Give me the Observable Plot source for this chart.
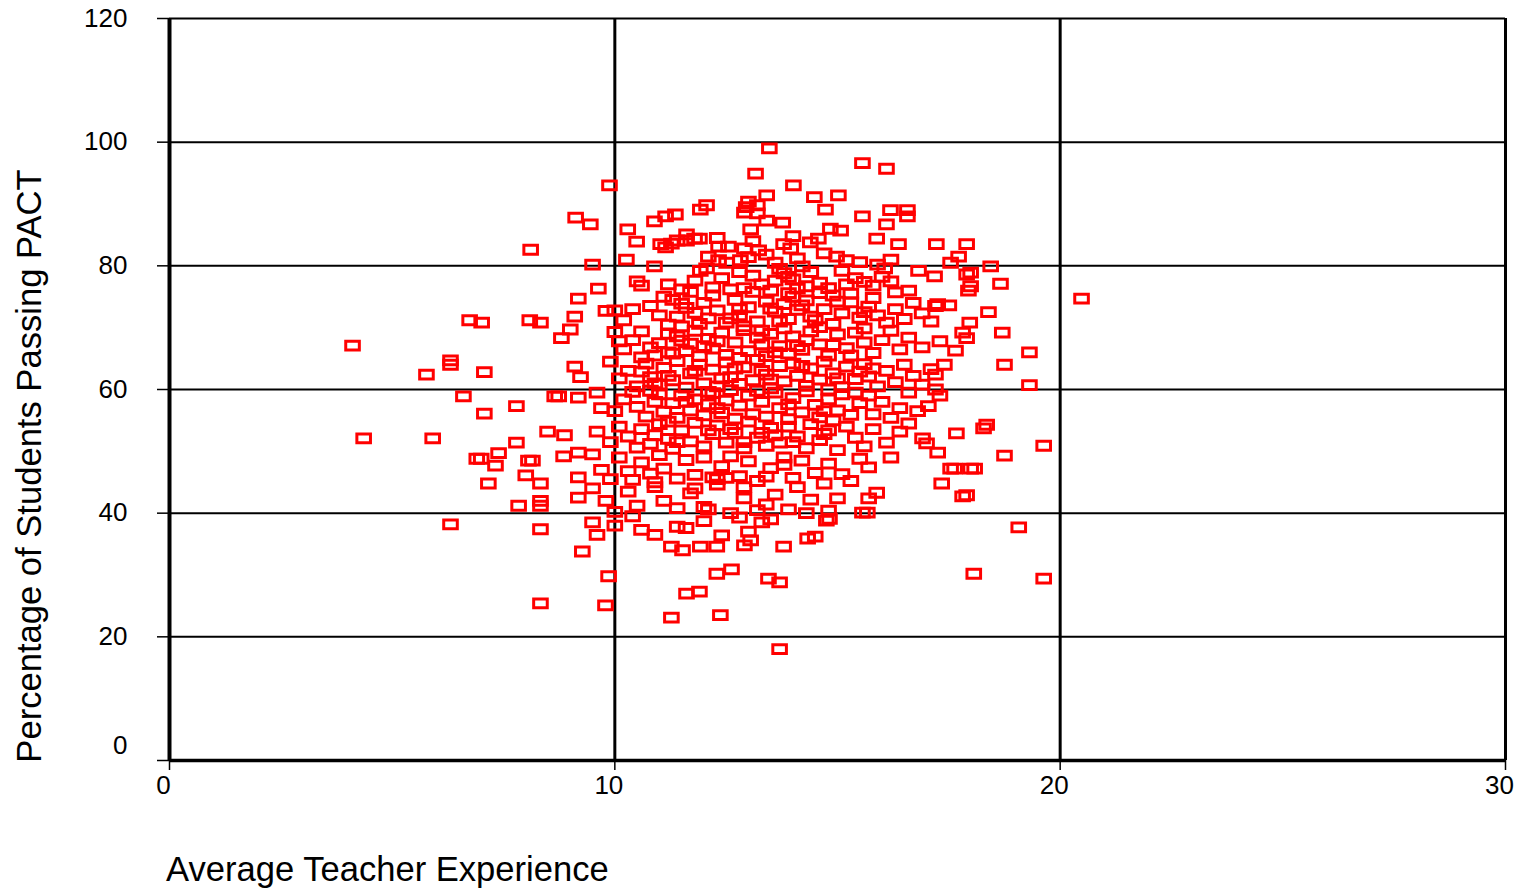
<!DOCTYPE html>
<html><head><meta charset="utf-8">
<script src="https://cdn.jsdelivr.net/npm/d3@7"></script>
<script src="https://cdn.jsdelivr.net/npm/@observablehq/plot@0.6"></script>
<style>
body{margin:0;background:#fff;font-family:"Liberation Sans",Arial,sans-serif;}
#wrap{position:relative;width:1518px;height:889px;overflow:hidden;background:#fff}
#ytitle{position:absolute;left:29px;top:466px;transform:translate(-50%,-50%) rotate(-90deg);font-size:34.6px;white-space:nowrap;line-height:1;color:#000}
#xtitle{position:absolute;left:166px;top:852px;font-size:34.6px;line-height:1;white-space:nowrap;color:#000}
</style></head><body>
<div id="wrap"><div id="chart"></div>
<div id="ytitle">Percentage of Students Passing PACT</div>
<div id="xtitle">Average Teacher Experience</div></div>
<script>
const xTicks = [0, 10, 20, 30];
const yTicks = [0, 20, 40, 60, 80, 100, 120];
const xTitle = "Average Teacher Experience";
const yTitle = "Percentage of Students Passing PACT";

// [average teacher experience, % passing PACT], grouped by band of pass rate
const band95 = [[13.47,99.0],[15.56,96.6],[16.10,95.7],[13.16,94.9]];
const band90 = [[9.88,93.0],[14.01,93.0],[13.41,91.4],[14.48,91.1],[15.02,91.4],[13.0,90.4]];
const band85 = [[13.2,89.8],[12.06,89.8],[11.92,89.1],[16.19,89.0],[16.57,89.0],[16.57,88.0],[14.73,89.1],[12.91,88.6],[11.14,88.0],[11.36,88.3],[9.12,87.8],[15.56,88.0],[13.41,87.3],[13.77,87.0],[10.89,87.2],[9.45,86.7],[16.1,86.7],[10.29,85.9],[13.05,85.9],[14.84,86.0],[15.07,85.7],[13.2,88.5],[12.95,89.5]];
const band80 = [[11.61,85.1],[11.79,84.4],[11.61,84.1],[11.9,84.4],[10.49,83.9],[11.03,83.5],[11.27,83.6],[11.4,84.1],[14.39,83.8],[14.57,84.4],[15.88,84.4],[16.37,83.5],[17.22,83.5],[17.9,83.5],[12.33,83.1],[12.55,83.1],[12.91,82.8],[13.23,82.5],[13.79,83.5],[13.95,82.8],[8.11,82.6],[11.14,83.0],[14.98,81.5],[15.2,80.9],[10.26,81.0],[17.72,81.5],[12.33,80.9],[12.51,80.5],[12.82,80.9],[13.0,81.4],[9.5,80.2],[12.1,81.5],[13.6,80.5],[14.7,82.0],[15.5,80.6],[17.54,80.5],[16.2,81.0],[12.3,84.5],[13.1,84.0],[14.0,84.8]];
const band75 = [[11.92,79.2],[12.06,79.6],[10.89,79.9],[14.21,79.9],[16.06,79.6],[16.82,79.2],[18.44,79.9],[17.9,78.6],[17.99,78.9],[17.18,78.3],[13.7,79.5],[13.8,78.8],[16.2,77.5],[18.66,77.1],[17.94,76.0],[17.99,76.7],[16.6,76.0],[9.63,76.3],[10.5,77.5],[10.6,76.8],[11.2,77.0],[11.5,76.2],[11.7,75.8],[12.2,76.5],[12.6,76.2],[12.9,76.4],[13.3,77.0],[13.1,78.4],[13.6,77.6],[14.0,77.8],[14.3,76.7],[14.6,77.3],[14.8,76.4],[15.2,77.0],[15.4,78.0],[15.6,77.4],[15.8,76.8],[16.0,78.2],[16.3,75.7],[15.3,75.5],[14.9,75.2],[13.9,75.6],[12.4,78.0],[11.8,77.6],[13.5,76.0],[14.1,76.3]];
const band70 = [[20.48,74.7],[9.18,74.7],[17.2,73.5],[17.25,73.8],[18.39,72.5],[17.97,70.8],[6.74,71.2],[7.01,70.8],[8.09,71.2],[8.33,70.8],[9.1,71.8],[9.8,72.7],[10.0,72.8],[10.2,71.2],[10.4,73.0],[10.8,73.5],[11.0,72.0],[11.2,70.5],[11.4,71.8],[11.6,73.2],[11.8,72.4],[12.0,74.0],[12.1,71.5],[12.3,72.8],[12.5,70.8],[12.7,74.5],[12.8,72.0],[13.0,73.3],[13.2,71.0],[13.4,74.2],[13.6,72.6],[13.8,73.8],[13.9,71.4],[14.1,72.9],[14.3,74.4],[14.5,71.2],[14.7,73.0],[14.9,70.6],[15.1,72.3],[15.3,74.1],[15.5,71.6],[15.7,73.4],[15.9,72.0],[16.1,70.8],[16.3,73.0],[16.5,71.4],[16.7,74.0],[16.9,72.3],[17.1,71.0],[17.5,73.6],[11.3,74.5],[12.9,70.2],[14.0,75.0],[15.8,74.8]];
const band65 = [[4.11,67.1],[8.8,68.3],[9.0,69.7],[18.7,69.2],[17.81,69.2],[17.9,68.3],[19.31,66.0],[17.65,66.3],[10.0,69.3],[10.2,66.5],[10.4,68.0],[10.6,69.4],[10.8,66.8],[10.9,65.5],[11.0,67.5],[11.2,69.0],[11.3,65.8],[11.5,67.9],[11.6,66.2],[11.8,69.5],[11.9,65.4],[12.1,68.2],[12.2,66.6],[12.4,69.2],[12.5,65.6],[12.7,67.6],[12.9,69.6],[13.0,66.2],[13.2,68.4],[13.4,65.4],[13.5,69.0],[13.7,67.0],[13.9,65.8],[14.0,68.6],[14.2,66.4],[14.4,69.4],[14.6,67.3],[14.8,65.5],[15.0,68.9],[15.2,66.7],[15.4,69.2],[15.6,67.6],[15.8,65.9],[16.0,68.0],[16.2,69.5],[16.4,66.5],[16.6,68.4],[16.9,66.8],[17.3,67.8],[10.1,67.8],[12.0,67.0],[13.3,67.3],[14.3,68.0],[15.3,65.5],[11.4,68.6]];
const band60 = [[6.31,64.7],[6.31,64.0],[5.77,62.4],[7.07,62.8],[9.1,63.7],[9.23,62.0],[18.75,64.0],[17.2,60.0],[17.4,64.0],[17.1,63.3],[19.31,60.7],[9.9,64.5],[10.1,61.8],[10.3,63.0],[10.5,60.5],[10.7,64.2],[10.8,62.0],[11.0,60.8],[11.1,63.5],[11.3,61.5],[11.4,64.6],[11.6,60.3],[11.7,62.6],[11.9,64.0],[12.0,61.0],[12.2,63.2],[12.3,60.5],[12.5,64.4],[12.6,62.0],[12.8,60.9],[12.9,63.6],[13.1,61.5],[13.2,64.8],[13.4,62.4],[13.5,60.2],[13.7,63.8],[13.8,61.3],[14.0,64.2],[14.1,62.2],[14.3,60.6],[14.4,63.4],[14.6,61.6],[14.7,64.5],[14.9,62.6],[15.1,60.4],[15.2,63.7],[15.4,61.7],[15.6,64.1],[15.7,62.1],[15.9,60.5],[16.1,63.0],[16.3,61.2],[16.5,64.0],[16.7,62.2],[16.9,60.8],[17.2,62.4],[10.6,62.9],[12.4,61.8],[13.3,63.0],[14.8,60.0],[15.5,62.9]];
const band55 = [[6.6,58.9],[7.07,56.1],[7.79,57.3],[8.74,58.9],[8.65,58.9],[9.18,58.7],[9.6,59.5],[9.7,57.0],[10.0,56.5],[10.2,58.4],[10.4,59.6],[10.5,57.2],[10.7,55.6],[10.9,58.0],[11.0,59.2],[11.1,56.4],[11.3,57.8],[11.4,55.4],[11.5,59.0],[11.7,56.6],[11.8,58.4],[12.0,55.8],[12.1,57.6],[12.2,59.4],[12.4,56.2],[12.5,58.2],[12.7,55.3],[12.8,57.4],[13.0,59.0],[13.1,56.0],[13.3,58.0],[13.4,55.6],[13.6,59.5],[13.7,57.0],[13.9,55.2],[14.0,58.6],[14.2,56.3],[14.3,59.7],[14.5,57.5],[14.6,55.5],[14.8,58.4],[15.0,56.6],[15.1,59.2],[15.3,55.9],[15.5,57.8],[15.7,59.0],[15.8,56.0],[16.0,58.0],[16.2,55.4],[16.4,57.0],[16.6,59.5],[16.8,56.5],[17.04,57.3],[17.3,59.0],[10.8,59.8],[12.6,59.9],[14.9,55.0]];
const band50 = [[4.36,52.1],[5.91,52.1],[7.79,51.4],[8.49,53.2],[8.87,52.6],[9.6,53.2],[9.9,51.5],[10.1,54.0],[10.3,52.4],[10.5,50.6],[10.6,53.6],[10.8,51.2],[11.0,54.4],[11.2,52.0],[11.3,50.4],[11.5,53.4],[11.7,51.6],[11.8,54.6],[12.0,50.8],[12.2,52.8],[12.3,54.2],[12.5,51.4],[12.7,53.0],[12.9,50.5],[13.0,54.8],[13.2,52.2],[13.4,50.9],[13.5,53.8],[13.7,51.4],[13.9,54.0],[14.1,52.4],[14.3,50.5],[14.4,54.4],[14.6,51.8],[14.8,53.4],[15.0,50.2],[15.2,54.0],[15.4,52.2],[15.6,50.8],[15.8,53.6],[16.1,51.4],[16.4,53.2],[16.6,54.5],[16.91,52.1],[17.0,51.3],[17.67,52.9],[18.35,54.3],[18.28,53.7],[19.63,50.9],[12.1,53.4],[13.6,52.6]];
const band45 = [[6.9,48.8],[7.0,48.8],[7.32,47.7],[7.39,49.7],[7.16,44.8],[8.06,48.5],[8.15,48.5],[8.0,46.1],[8.85,49.2],[9.18,49.8],[9.18,45.8],[9.5,49.5],[9.7,47.0],[9.9,45.5],[10.1,49.0],[10.3,46.8],[10.4,45.4],[10.6,48.2],[10.8,46.4],[11.0,49.4],[11.1,47.2],[11.4,45.6],[11.6,48.6],[11.8,46.2],[12.0,49.0],[12.2,45.8],[12.4,47.6],[12.6,49.2],[12.8,46.0],[13.0,48.4],[13.2,45.2],[13.5,47.3],[13.8,49.0],[14.0,45.7],[14.2,48.5],[14.5,46.5],[14.8,48.0],[15.1,46.3],[15.5,48.8],[15.7,47.4],[16.2,49.0],[17.25,49.8],[17.63,47.2],[17.54,47.2],[17.99,47.2],[18.08,47.2],[18.75,49.3],[12.3,45.5],[12.5,45.7],[10.9,45.0]];
const band40 = [[7.84,41.2],[8.33,44.8],[8.33,42.0],[8.33,41.2],[9.18,42.5],[9.5,44.0],[9.8,42.0],[10.0,40.2],[10.3,43.5],[10.5,41.2],[10.9,44.2],[11.1,42.0],[11.4,40.8],[11.7,43.2],[12.0,41.0],[12.3,44.6],[12.6,40.0],[12.9,42.4],[13.2,40.5],[13.4,41.4],[13.6,43.0],[13.9,40.6],[14.1,44.2],[14.4,42.2],[14.8,40.4],[15.0,42.4],[15.88,43.3],[15.56,40.1],[15.67,40.1],[15.7,42.4],[17.34,44.8],[17.9,42.9],[17.81,42.7],[12.1,40.6],[14.3,40.0]];
const band35 = [[6.31,38.2],[8.33,37.4],[9.5,38.5],[9.6,36.5],[10.0,38.0],[10.4,39.5],[10.6,37.3],[10.9,36.5],[11.4,37.8],[11.6,37.6],[12.4,36.4],[12.8,39.3],[13.05,35.6],[13.3,38.5],[13.5,39.0],[14.33,35.9],[14.5,36.2],[14.75,38.8],[14.82,39.1],[12.0,38.7],[19.07,37.7],[13.0,37.0]];
const band30 = [[9.27,33.8],[11.27,34.6],[11.52,34.0],[11.92,34.6],[12.29,34.6],[12.91,34.8],[13.79,34.6],[12.62,30.9],[12.29,30.2]];
const bandLow = [[9.86,29.8],[9.79,25.1],[8.33,25.4],[11.61,27.0],[11.9,27.3],[13.45,29.4],[13.7,28.8],[12.37,23.5],[11.27,23.1],[13.7,18.0],[18.06,30.2],[19.63,29.4]];
const core = [[11.1,75.0],[11.5,73.9],[12.2,75.2],[12.8,73.0],[13.1,75.8],[13.5,73.1],[13.7,71.0],[14.2,73.6],[14.6,75.6],[14.4,71.8],[15.0,74.2],[15.6,72.5],[12.6,71.5],[11.9,70.6],[11.5,70.2],[13.3,69.5],[13.8,69.9],[14.6,70.1],[15.6,69.9],[12.3,67.8],[12.8,65.1],[13.6,66.0],[14.1,67.0],[14.9,67.2],[11.7,67.4],[11.2,66.0],[10.6,65.2],[11.8,63.0],[12.7,63.4],[13.5,61.6],[14.2,63.8],[15.0,61.8],[15.8,63.4],[11.2,62.2],[10.9,61.0],[12.1,59.6],[13.2,59.8],[13.9,57.6],[14.7,56.5],[15.4,59.5],[12.3,57.0],[11.6,58.0],[11.2,54.8],[12.6,53.6],[13.3,53.0],[14.0,51.5],[14.7,52.8],[12.9,51.5],[11.4,51.5],[10.9,52.6],[13.8,47.8],[13.4,45.9],[12.9,44.2],[14.7,44.8],[15.3,45.2],[11.8,44.0],[13.9,78.2],[14.4,79.0],[12.8,79.0],[15.1,79.2],[15.9,80.2],[13.4,81.8],[14.1,81.2]];

const schools = [].concat(band95, band90, band85, band80, band75, band70, band65, band60, band55, band50, band45, band40, band35, band30, bandLow, core)
  .map(([experience, passing]) => ({experience, passing}));

const boxSymbol = {draw(ctx) { ctx.rect(-6.8, -4.4, 13.6, 8.8); }};

const chart = Plot.plot({
  width: 1518, height: 800,
  marginLeft: 169, marginRight: 13, marginTop: 18, marginBottom: 40,
  x: {domain: [0, 30]},
  y: {domain: [0, 120]},
  style: {fontFamily: "Liberation Sans, Arial, sans-serif", background: "white", color: "black"},
  marks: [
    Plot.ruleX(xTicks.filter(d => d > 0), {stroke: "black", strokeWidth: 3}),
    Plot.ruleY(yTicks.filter(d => d > 0), {stroke: "black", strokeWidth: 2}),
    Plot.dot(schools, {x: "experience", y: "passing", symbol: boxSymbol, stroke: "#ff0000", strokeWidth: 3, fill: "none"}),
    Plot.ruleX([0], {stroke: "black", strokeWidth: 4}),
    Plot.ruleY([0], {stroke: "black", strokeWidth: 3.5}),
    Plot.axisY(yTicks, {tickSize: 12, tickPadding: 30, fontSize: 26, label: null, strokeWidth: 1.5, tickFormat: d => d === 0 ? "" : String(d)}),
    Plot.axisY([0], {tickSize: 0, tickPadding: 42, fontSize: 26, label: null, dy: -15}),
    Plot.axisX(xTicks, {tickSize: 10, label: null, strokeWidth: 1.5, tickFormat: () => ""}),
    Plot.axisX(xTicks, {tickSize: 0, tickPadding: 15, fontSize: 26, label: null, dx: -6})
  ]
});
document.getElementById("chart").appendChild(chart);
</script>
</body></html>
